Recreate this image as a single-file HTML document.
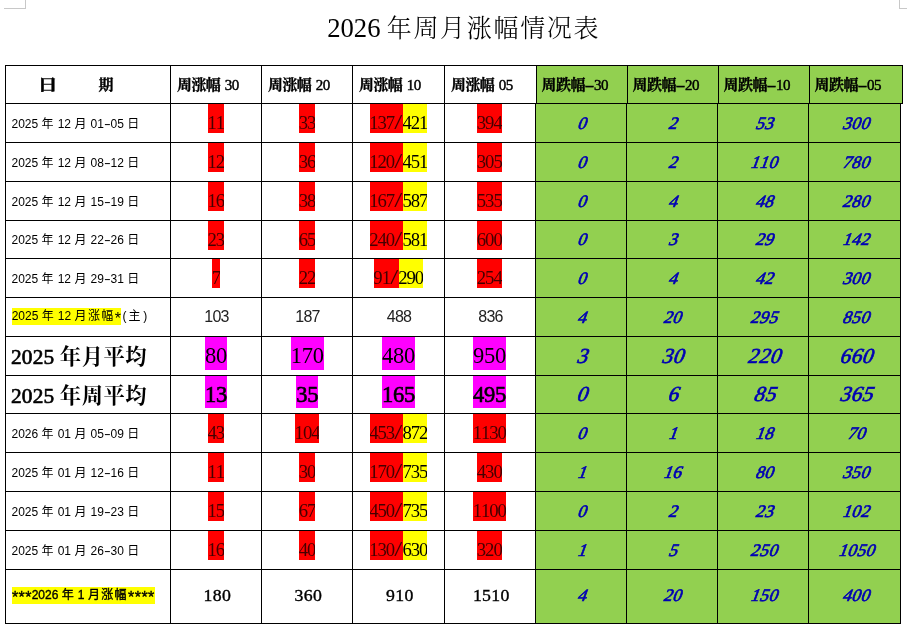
<!DOCTYPE html>
<html lang="zh-CN"><head><meta charset="utf-8"><title>2026 年周月涨幅情况表</title>
<style>
html,body{margin:0;padding:0;background:#fff;}
body{width:907px;height:627px;position:relative;overflow:hidden;font-family:"Liberation Serif","Noto Serif CJK SC",serif;color:#000;font-kerning:none;}
.a{position:absolute;}
.ln{position:absolute;background:#000;}
.c{position:absolute;display:flex;align-items:center;justify-content:center;white-space:nowrap;}
.t{align-items:flex-start;}
.l{position:absolute;display:flex;align-items:center;justify-content:flex-start;white-space:nowrap;}
.title{position:absolute;left:327.2px;top:9.5px;text-align:left;font-size:26.67px;line-height:36px;white-space:nowrap;}
.tk{font-size:25px;letter-spacing:1.67px;font-weight:300;margin-left:-0.4px;}
.h{font-weight:bold;font-size:15px;letter-spacing:-0.6px;word-spacing:1.5px;-webkit-text-stroke:0.3px #000;}
.ri{display:inline-block;transform:scaleX(1.35);}
.hd{font-weight:normal;-webkit-text-stroke:0.45px #000;}
.hd2{font-weight:normal;-webkit-text-stroke:0.65px #000;letter-spacing:.2px;}
.hy2{display:inline-block;width:9.2px;text-align:center;transform:scaleX(2);letter-spacing:0;}
.date{font-family:"Liberation Sans","Noto Sans CJK SC",sans-serif;font-size:12px;word-spacing:-0.6px;}
.k{letter-spacing:1.33px;margin-left:.67px;}
.p{display:inline-block;width:6.67px;text-align:center;}
.dh{transform:scaleX(1.7);}
.as{position:relative;top:4.2px;font-size:16px;line-height:12px;}
.n{font-size:18.7px;letter-spacing:-1.05px;text-indent:-0.5px;line-height:38.8px;height:29.2px;display:inline-block;overflow:hidden;vertical-align:top;}
.sl{display:inline-block;width:8.8px;text-align:center;letter-spacing:0;text-indent:0;transform:scale(1.55,1.08);}
.r{background:#ff0000;color:#400;}
.y{background:#ffff00;}
.hy{background:#ffff00;display:inline-block;height:17px;line-height:17px;}
.mg{background:#ff00ff;}
.sb{-webkit-text-stroke:0.6px #000;}
.big{font-size:22.5px;letter-spacing:-0.25px;line-height:38px;height:32.7px;display:inline-block;overflow:hidden;vertical-align:top;}
.g{color:#0000b4;font-size:17.5px;letter-spacing:.4px;}
.g span{display:inline-block;transform:skewX(-20deg);transform-origin:50% 85%;-webkit-text-stroke:0.7px #0000b4;}
.tn{font-size:17.75px;letter-spacing:.3px;-webkit-text-stroke:0.4px #000;}
.sn{font-size:16px;letter-spacing:-0.7px;color:#222;}
</style></head><body>

<div class="a" style="left:4px;top:0;width:21px;height:8px;border-right:1px solid #c8c8c8;border-bottom:1px solid #c8c8c8;"></div>
<div class="a" style="left:899px;top:0;width:8px;height:8px;border-left:1px solid #c8c8c8;border-bottom:1px solid #c8c8c8;"></div>
<div class="title">2026 <span class="tk">年周月涨幅情况表</span></div>
<div class="a" style="left:537px;top:66px;width:365px;height:37px;background:#92d050;"></div>
<div class="a" style="left:536px;top:104px;width:364px;height:519px;background:#92d050;"></div>
<div class="ln" style="left:5px;top:65px;width:898px;height:1px;"></div>
<div class="ln" style="left:5px;top:103px;width:898px;height:1px;"></div>
<div class="ln" style="left:5px;top:142px;width:896px;height:1px;"></div>
<div class="ln" style="left:5px;top:181px;width:896px;height:1px;"></div>
<div class="ln" style="left:5px;top:220px;width:896px;height:1px;"></div>
<div class="ln" style="left:5px;top:258px;width:896px;height:1px;"></div>
<div class="ln" style="left:5px;top:297px;width:896px;height:1px;"></div>
<div class="ln" style="left:5px;top:336px;width:896px;height:1px;"></div>
<div class="ln" style="left:5px;top:375px;width:896px;height:1px;"></div>
<div class="ln" style="left:5px;top:413px;width:896px;height:1px;"></div>
<div class="ln" style="left:5px;top:452px;width:896px;height:1px;"></div>
<div class="ln" style="left:5px;top:491px;width:896px;height:1px;"></div>
<div class="ln" style="left:5px;top:530px;width:896px;height:1px;"></div>
<div class="ln" style="left:5px;top:569px;width:896px;height:1px;"></div>
<div class="ln" style="left:5px;top:623px;width:896px;height:1px;"></div>
<div class="ln" style="left:5px;top:65px;width:1px;height:559px;"></div>
<div class="ln" style="left:170px;top:65px;width:1px;height:559px;"></div>
<div class="ln" style="left:261px;top:65px;width:1px;height:559px;"></div>
<div class="ln" style="left:352px;top:65px;width:1px;height:559px;"></div>
<div class="ln" style="left:444px;top:65px;width:1px;height:559px;"></div>
<div class="ln" style="left:536px;top:65px;width:1px;height:39px;"></div>
<div class="ln" style="left:535px;top:103px;width:1px;height:521px;"></div>
<div class="ln" style="left:627px;top:65px;width:1px;height:39px;"></div>
<div class="ln" style="left:626px;top:103px;width:1px;height:521px;"></div>
<div class="ln" style="left:718px;top:65px;width:1px;height:39px;"></div>
<div class="ln" style="left:717px;top:103px;width:1px;height:521px;"></div>
<div class="ln" style="left:809px;top:65px;width:1px;height:39px;"></div>
<div class="ln" style="left:808px;top:103px;width:1px;height:521px;"></div>
<div class="ln" style="left:902px;top:65px;width:1px;height:39px;"></div>
<div class="ln" style="left:900px;top:103px;width:1px;height:521px;"></div>
<div class="l h" style="left:40px;top:64.5px;height:37px;"><span><span class="ri">日</span><span style="display:inline-block;width:44px"></span>期</span></div>
<div class="l h" style="left:177px;top:64.5px;height:37px;"><span>周涨幅 <span class="hd">30</span></span></div>
<div class="l h" style="left:268px;top:64.5px;height:37px;"><span>周涨幅 <span class="hd">20</span></span></div>
<div class="l h" style="left:359px;top:64.5px;height:37px;"><span>周涨幅 <span class="hd">10</span></span></div>
<div class="l h" style="left:451px;top:64.5px;height:37px;"><span>周涨幅 <span class="hd">05</span></span></div>
<div class="l h" style="left:541.6px;top:64.5px;height:37px;"><span>周跌幅<span class="hy2">-</span><span class="hd">30</span></span></div>
<div class="l h" style="left:632.6px;top:64.5px;height:37px;"><span>周跌幅<span class="hy2">-</span><span class="hd">20</span></span></div>
<div class="l h" style="left:723.6px;top:64.5px;height:37px;"><span>周跌幅<span class="hy2">-</span><span class="hd">10</span></span></div>
<div class="l h" style="left:814.6px;top:64.5px;height:37px;"><span>周跌幅<span class="hy2">-</span><span class="hd">05</span></span></div>
<div class="l date" style="left:11.5px;top:103px;height:38px;"><span>2025 <span class="k">年</span> 12 <span class="k">月</span> 01<span class="p dh">-</span>05 <span class="k">日</span></span></div>
<div class="c t" style="left:170.6px;top:104.2px;width:91px;height:30px;"><span class="n r">11</span></div>
<div class="c t" style="left:261.8px;top:104.2px;width:91px;height:30px;"><span class="n r">33</span></div>
<div class="c t" style="left:352.5px;top:104.2px;width:92px;height:30px;"><span class="n r">137<span class="sl">/</span></span><span class="n y">421</span></div>
<div class="c t" style="left:444px;top:104.2px;width:91px;height:30px;"><span class="n r">394</span></div>
<div class="c g" style="left:535px;top:104px;width:91px;height:38px;font-size:17.5px;"><span>0</span></div>
<div class="c g" style="left:626px;top:104px;width:91px;height:38px;font-size:17.5px;"><span>2</span></div>
<div class="c g" style="left:717.5px;top:104px;width:90.5px;height:38px;font-size:17.5px;"><span>53</span></div>
<div class="c g" style="left:809.8px;top:104px;width:90.20000000000005px;height:38px;font-size:17.5px;"><span>300</span></div>
<div class="l date" style="left:11.5px;top:142px;height:38px;"><span>2025 <span class="k">年</span> 12 <span class="k">月</span> 08<span class="p dh">-</span>12 <span class="k">日</span></span></div>
<div class="c t" style="left:170.6px;top:143.2px;width:91px;height:30px;"><span class="n r">12</span></div>
<div class="c t" style="left:261.8px;top:143.2px;width:91px;height:30px;"><span class="n r">36</span></div>
<div class="c t" style="left:352.5px;top:143.2px;width:92px;height:30px;"><span class="n r">120<span class="sl">/</span></span><span class="n y">451</span></div>
<div class="c t" style="left:444px;top:143.2px;width:91px;height:30px;"><span class="n r">305</span></div>
<div class="c g" style="left:535px;top:143px;width:91px;height:38px;font-size:17.5px;"><span>0</span></div>
<div class="c g" style="left:626px;top:143px;width:91px;height:38px;font-size:17.5px;"><span>2</span></div>
<div class="c g" style="left:717.5px;top:143px;width:90.5px;height:38px;font-size:17.5px;"><span>110</span></div>
<div class="c g" style="left:809.8px;top:143px;width:90.20000000000005px;height:38px;font-size:17.5px;"><span>780</span></div>
<div class="l date" style="left:11.5px;top:181px;height:38px;"><span>2025 <span class="k">年</span> 12 <span class="k">月</span> 15<span class="p dh">-</span>19 <span class="k">日</span></span></div>
<div class="c t" style="left:170.6px;top:182.2px;width:91px;height:30px;"><span class="n r">16</span></div>
<div class="c t" style="left:261.8px;top:182.2px;width:91px;height:30px;"><span class="n r">38</span></div>
<div class="c t" style="left:352.5px;top:182.2px;width:92px;height:30px;"><span class="n r">167<span class="sl">/</span></span><span class="n y">587</span></div>
<div class="c t" style="left:444px;top:182.2px;width:91px;height:30px;"><span class="n r">535</span></div>
<div class="c g" style="left:535px;top:182px;width:91px;height:38px;font-size:17.5px;"><span>0</span></div>
<div class="c g" style="left:626px;top:182px;width:91px;height:38px;font-size:17.5px;"><span>4</span></div>
<div class="c g" style="left:717.5px;top:182px;width:90.5px;height:38px;font-size:17.5px;"><span>48</span></div>
<div class="c g" style="left:809.8px;top:182px;width:90.20000000000005px;height:38px;font-size:17.5px;"><span>280</span></div>
<div class="l date" style="left:11.5px;top:220px;height:37px;"><span>2025 <span class="k">年</span> 12 <span class="k">月</span> 22<span class="p dh">-</span>26 <span class="k">日</span></span></div>
<div class="c t" style="left:170.6px;top:220.9px;width:91px;height:30px;"><span class="n r">23</span></div>
<div class="c t" style="left:261.8px;top:220.9px;width:91px;height:30px;"><span class="n r">65</span></div>
<div class="c t" style="left:352.5px;top:220.9px;width:92px;height:30px;"><span class="n r">240<span class="sl">/</span></span><span class="n y">581</span></div>
<div class="c t" style="left:444px;top:220.9px;width:91px;height:30px;"><span class="n r">600</span></div>
<div class="c g" style="left:535px;top:221px;width:91px;height:37px;font-size:17.5px;"><span>0</span></div>
<div class="c g" style="left:626px;top:221px;width:91px;height:37px;font-size:17.5px;"><span>3</span></div>
<div class="c g" style="left:717.5px;top:221px;width:90.5px;height:37px;font-size:17.5px;"><span>29</span></div>
<div class="c g" style="left:809.8px;top:221px;width:90.20000000000005px;height:37px;font-size:17.5px;"><span>142</span></div>
<div class="l date" style="left:11.5px;top:258px;height:38px;"><span>2025 <span class="k">年</span> 12 <span class="k">月</span> 29<span class="p dh">-</span>31 <span class="k">日</span></span></div>
<div class="c t" style="left:170.6px;top:259.2px;width:91px;height:30px;"><span class="n r">7</span></div>
<div class="c t" style="left:261.8px;top:259.2px;width:91px;height:30px;"><span class="n r">22</span></div>
<div class="c t" style="left:352.5px;top:259.2px;width:92px;height:30px;"><span class="n r">91<span class="sl">/</span></span><span class="n y">290</span></div>
<div class="c t" style="left:444px;top:259.2px;width:91px;height:30px;"><span class="n r">254</span></div>
<div class="c g" style="left:535px;top:259px;width:91px;height:38px;font-size:17.5px;"><span>0</span></div>
<div class="c g" style="left:626px;top:259px;width:91px;height:38px;font-size:17.5px;"><span>4</span></div>
<div class="c g" style="left:717.5px;top:259px;width:90.5px;height:38px;font-size:17.5px;"><span>42</span></div>
<div class="c g" style="left:809.8px;top:259px;width:90.20000000000005px;height:38px;font-size:17.5px;"><span>300</span></div>
<div class="l date" style="left:11.7px;top:296.5px;height:38px;"><span><span class="hy">2025 <span class="k">年</span> 12 <span class="k">月涨幅</span><span class="p as">*</span></span><span class="p">(</span><span class="k">主</span><span class="p">)</span></span></div>
<div class="c date sn" style="left:171px;top:298px;width:91px;height:38px;">103</div>
<div class="c date sn" style="left:262px;top:298px;width:91px;height:38px;">187</div>
<div class="c date sn" style="left:353px;top:298px;width:92px;height:38px;">488</div>
<div class="c date sn" style="left:445px;top:298px;width:91px;height:38px;">836</div>
<div class="c g" style="left:535px;top:298px;width:91px;height:38px;font-size:17.5px;"><span>4</span></div>
<div class="c g" style="left:626px;top:298px;width:91px;height:38px;font-size:17.5px;"><span>20</span></div>
<div class="c g" style="left:717.5px;top:298px;width:90.5px;height:38px;font-size:17.5px;"><span>295</span></div>
<div class="c g" style="left:809.8px;top:298px;width:90.20000000000005px;height:38px;font-size:17.5px;"><span>850</span></div>
<div class="l" style="left:11px;top:335px;height:38px;font-weight:bold;font-size:21.33px;"><span><span class="hd2">2025</span> <span style="letter-spacing:.5px;margin-left:0">年月平均</span></span></div>
<div class="c t" style="left:170.6px;top:337.1px;width:91px;height:33px;"><span class="big mg">80</span></div>
<div class="c t" style="left:261.8px;top:337.1px;width:91px;height:33px;"><span class="big mg">170</span></div>
<div class="c t" style="left:352.5px;top:337.1px;width:92px;height:33px;"><span class="big mg">480</span></div>
<div class="c t" style="left:444px;top:337.1px;width:91px;height:33px;"><span class="big mg">950</span></div>
<div class="c g" style="left:535px;top:337px;width:91px;height:38px;font-size:21.33px;"><span>3</span></div>
<div class="c g" style="left:626px;top:337px;width:91px;height:38px;font-size:21.33px;"><span>30</span></div>
<div class="c g" style="left:717.5px;top:337px;width:90.5px;height:38px;font-size:21.33px;"><span>220</span></div>
<div class="c g" style="left:809.8px;top:337px;width:90.20000000000005px;height:38px;font-size:21.33px;"><span>660</span></div>
<div class="l" style="left:11px;top:375.3px;height:37px;font-weight:bold;font-size:21.33px;"><span><span class="hd2">2025</span> <span style="letter-spacing:.5px;margin-left:0">年周平均</span></span></div>
<div class="c t" style="left:170.6px;top:375.9px;width:91px;height:33px;"><span class="big mg sb" style="height:31.9px;line-height:38.1px">13</span></div>
<div class="c t" style="left:261.8px;top:375.9px;width:91px;height:33px;"><span class="big mg sb" style="height:31.9px;line-height:38.1px">35</span></div>
<div class="c t" style="left:352.5px;top:375.9px;width:92px;height:33px;"><span class="big mg sb" style="height:31.9px;line-height:38.1px">165</span></div>
<div class="c t" style="left:444px;top:375.9px;width:91px;height:33px;"><span class="big mg sb" style="height:31.9px;line-height:38.1px">495</span></div>
<div class="c g" style="left:535px;top:376px;width:91px;height:37px;font-size:21.33px;"><span>0</span></div>
<div class="c g" style="left:626px;top:376px;width:91px;height:37px;font-size:21.33px;"><span>6</span></div>
<div class="c g" style="left:717.5px;top:376px;width:90.5px;height:37px;font-size:21.33px;"><span>85</span></div>
<div class="c g" style="left:809.8px;top:376px;width:90.20000000000005px;height:37px;font-size:21.33px;"><span>365</span></div>
<div class="l date" style="left:11.5px;top:413px;height:38px;"><span>2026 <span class="k">年</span> 01 <span class="k">月</span> 05<span class="p dh">-</span>09 <span class="k">日</span></span></div>
<div class="c t" style="left:170.6px;top:414.2px;width:91px;height:30px;"><span class="n r">43</span></div>
<div class="c t" style="left:261.8px;top:414.2px;width:91px;height:30px;"><span class="n r">104</span></div>
<div class="c t" style="left:352.5px;top:414.2px;width:92px;height:30px;"><span class="n r">453<span class="sl">/</span></span><span class="n y">872</span></div>
<div class="c t" style="left:444px;top:414.2px;width:91px;height:30px;"><span class="n r">1130</span></div>
<div class="c g" style="left:535px;top:414px;width:91px;height:38px;font-size:17.5px;"><span>0</span></div>
<div class="c g" style="left:626px;top:414px;width:91px;height:38px;font-size:17.5px;"><span>1</span></div>
<div class="c g" style="left:717.5px;top:414px;width:90.5px;height:38px;font-size:17.5px;"><span>18</span></div>
<div class="c g" style="left:809.8px;top:414px;width:90.20000000000005px;height:38px;font-size:17.5px;"><span>70</span></div>
<div class="l date" style="left:11.5px;top:452px;height:38px;"><span>2025 <span class="k">年</span> 01 <span class="k">月</span> 12<span class="p dh">-</span>16 <span class="k">日</span></span></div>
<div class="c t" style="left:170.6px;top:453.2px;width:91px;height:30px;"><span class="n r">11</span></div>
<div class="c t" style="left:261.8px;top:453.2px;width:91px;height:30px;"><span class="n r">30</span></div>
<div class="c t" style="left:352.5px;top:453.2px;width:92px;height:30px;"><span class="n r">170<span class="sl">/</span></span><span class="n y">735</span></div>
<div class="c t" style="left:444px;top:453.2px;width:91px;height:30px;"><span class="n r">430</span></div>
<div class="c g" style="left:535px;top:453px;width:91px;height:38px;font-size:17.5px;"><span>1</span></div>
<div class="c g" style="left:626px;top:453px;width:91px;height:38px;font-size:17.5px;"><span>16</span></div>
<div class="c g" style="left:717.5px;top:453px;width:90.5px;height:38px;font-size:17.5px;"><span>80</span></div>
<div class="c g" style="left:809.8px;top:453px;width:90.20000000000005px;height:38px;font-size:17.5px;"><span>350</span></div>
<div class="l date" style="left:11.5px;top:491px;height:38px;"><span>2025 <span class="k">年</span> 01 <span class="k">月</span> 19<span class="p dh">-</span>23 <span class="k">日</span></span></div>
<div class="c t" style="left:170.6px;top:492.2px;width:91px;height:30px;"><span class="n r">15</span></div>
<div class="c t" style="left:261.8px;top:492.2px;width:91px;height:30px;"><span class="n r">67</span></div>
<div class="c t" style="left:352.5px;top:492.2px;width:92px;height:30px;"><span class="n r">450<span class="sl">/</span></span><span class="n y">735</span></div>
<div class="c t" style="left:444px;top:492.2px;width:91px;height:30px;"><span class="n r">1100</span></div>
<div class="c g" style="left:535px;top:492px;width:91px;height:38px;font-size:17.5px;"><span>0</span></div>
<div class="c g" style="left:626px;top:492px;width:91px;height:38px;font-size:17.5px;"><span>2</span></div>
<div class="c g" style="left:717.5px;top:492px;width:90.5px;height:38px;font-size:17.5px;"><span>23</span></div>
<div class="c g" style="left:809.8px;top:492px;width:90.20000000000005px;height:38px;font-size:17.5px;"><span>102</span></div>
<div class="l date" style="left:11.5px;top:530px;height:38px;"><span>2025 <span class="k">年</span> 01 <span class="k">月</span> 26<span class="p dh">-</span>30 <span class="k">日</span></span></div>
<div class="c t" style="left:170.6px;top:531.2px;width:91px;height:30px;"><span class="n r">16</span></div>
<div class="c t" style="left:261.8px;top:531.2px;width:91px;height:30px;"><span class="n r">40</span></div>
<div class="c t" style="left:352.5px;top:531.2px;width:92px;height:30px;"><span class="n r">130<span class="sl">/</span></span><span class="n y">630</span></div>
<div class="c t" style="left:444px;top:531.2px;width:91px;height:30px;"><span class="n r">320</span></div>
<div class="c g" style="left:535px;top:531px;width:91px;height:38px;font-size:17.5px;"><span>1</span></div>
<div class="c g" style="left:626px;top:531px;width:91px;height:38px;font-size:17.5px;"><span>5</span></div>
<div class="c g" style="left:717.5px;top:531px;width:90.5px;height:38px;font-size:17.5px;"><span>250</span></div>
<div class="c g" style="left:809.8px;top:531px;width:90.20000000000005px;height:38px;font-size:17.5px;"><span>1050</span></div>
<div class="l date" style="left:11.7px;top:569px;height:53px;"><span><span class="hy" style="-webkit-text-stroke:0.35px #000"><span class="p as">*</span><span class="p as">*</span><span class="p as">*</span>2026 <span class="k">年</span> 1 <span class="k">月涨幅</span><span class="p as">*</span><span class="p as">*</span><span class="p as">*</span><span class="p as">*</span></span></span></div>
<div class="c tn" style="left:171.8px;top:568.8px;width:91px;height:53px;">180</div>
<div class="c tn" style="left:262.8px;top:568.8px;width:91px;height:53px;">360</div>
<div class="c tn" style="left:353.8px;top:568.8px;width:92px;height:53px;">910</div>
<div class="c tn" style="left:445.8px;top:568.8px;width:91px;height:53px;">1510</div>
<div class="c g" style="left:535px;top:569px;width:91px;height:53px;font-size:17.5px;"><span>4</span></div>
<div class="c g" style="left:626px;top:569px;width:91px;height:53px;font-size:17.5px;"><span>20</span></div>
<div class="c g" style="left:717.5px;top:569px;width:90.5px;height:53px;font-size:17.5px;"><span>150</span></div>
<div class="c g" style="left:809.8px;top:569px;width:90.20000000000005px;height:53px;font-size:17.5px;"><span>400</span></div>
</body></html>
